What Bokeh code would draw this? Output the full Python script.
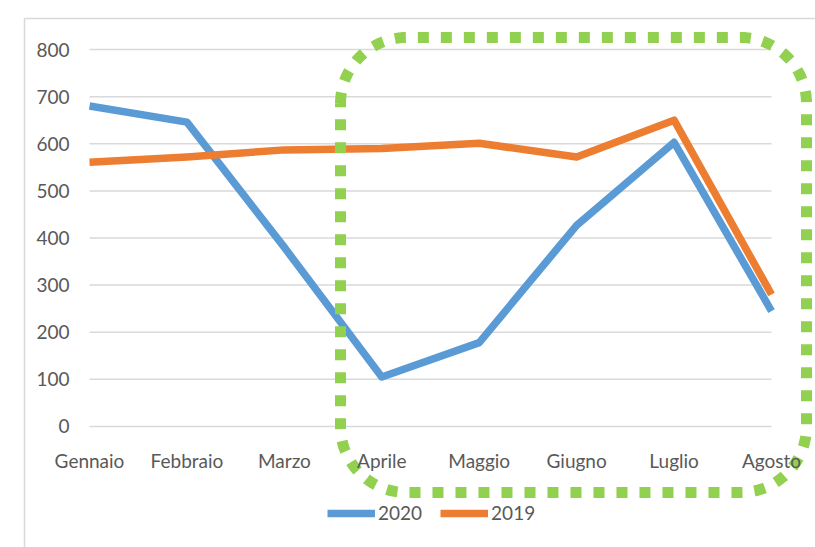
import numpy as np
from bokeh.plotting import figure
from bokeh.models import Range1d, Legend, LegendItem
from bokeh.core.properties import value
from bokeh.embed import file_html
from bokeh.resources import INLINE

# ---- data ----
months = ["Gennaio", "Febbraio", "Marzo", "Aprile", "Maggio", "Giugno", "Luglio", "Agosto"]
sales_2020 = [680, 646, 380, 105, 178, 427, 603, 245]
sales_2019 = [561, 572, 587, 590, 601, 572, 650, 280]
y_ticks = [0, 100, 200, 300, 400, 500, 600, 700, 800]
y_tick_labels = [str(t) for t in y_ticks]
series_names = ["2020", "2019"]

# ---- layout ----
W, H = 815, 547
x_start, x_end = -0.9135, 7.4516
y_start, y_end = -256.8, 904.0
px_x = W / (x_end - x_start)
px_y = H / (y_end - y_start)

def dx(px):  # horizontal pixel position -> data x
    return x_start + px / px_x

def dy(py):  # vertical pixel position from top -> data y
    return y_end - py / px_y

FONT = "Lato"
TXT = "#595959"
BLUE = "#5B9BD5"
ORANGE = "#ED7D31"
GREEN = "#92D050"

p = figure(width=W, height=H, output_backend="svg", toolbar_location=None,
           x_range=Range1d(x_start, x_end), y_range=Range1d(y_start, y_end),
           min_border=0, min_border_left=0, min_border_right=0,
           min_border_top=0, min_border_bottom=0)
p.axis.visible = False
p.grid.visible = False
p.outline_line_color = None
p.background_fill_color = "white"
p.border_fill_color = "white"

x_pos = list(range(len(months)))

# chart border (left and top)
xb, yb = dx(24), dy(18)
p.segment(x0=[xb, xb], y0=[yb, yb], x1=[xb, x_end], y1=[y_start, yb],
          line_color="#d9d9d9", line_width=1.5)

# gridlines
p.segment(x0=[x_pos[0]] * len(y_ticks), x1=[x_pos[-1]] * len(y_ticks),
          y0=y_ticks, y1=y_ticks, line_color="#d9d9d9", line_width=1.5)

# y tick labels
p.text(x=[dx(69)] * len(y_ticks), y=y_ticks, text=y_tick_labels,
       text_font=value(FONT), text_font_size="19px", text_color=TXT,
       text_align="right", text_baseline="middle")

# series
r20 = p.line(x_pos, sales_2020, line_color=BLUE, line_width=7.5, line_join="round")
r19 = p.line(x_pos, sales_2019, line_color=ORANGE, line_width=7.5, line_join="round")

# green dotted rounded rectangle (highlight annotation)
L, R, T, B = dx(340), dx(806), dy(37), dy(492)
rx, ry = 66 / px_x, 66 / px_y
def arc(cx, cy, a0, a1, n=30):
    a = np.linspace(np.radians(a0), np.radians(a1), n)
    return list(cx + rx * np.cos(a)), list(cy + ry * np.sin(a))
xs, ys = [], []
for (cx, cy, a0, a1) in [(L + rx, T - ry, 180, 90), (R - rx, T - ry, 90, 0),
                         (R - rx, B + ry, 0, -90), (L + rx, B + ry, -90, -180)]:
    ax_, ay_ = arc(cx, cy, a0, a1)
    xs += ax_
    ys += ay_
xs.append(xs[0]); ys.append(ys[0])
p.line(xs, ys, line_color=GREEN, line_width=11, line_dash="11 12", line_cap="butt")

# x category labels (drawn above the highlight)
p.text(x=x_pos, y=[dy(460)] * len(months), text=months,
       text_font=value(FONT), text_font_size="19px", text_color=TXT,
       text_align="center", text_baseline="middle")

# legend
legend = Legend(items=[LegendItem(label=series_names[0], renderers=[r20]),
                       LegendItem(label=series_names[1], renderers=[r19])],
                orientation="horizontal", location=(327, 23),
                glyph_width=48, glyph_height=18, label_standoff=3, spacing=18,
                padding=0, margin=0, border_line_color=None,
                background_fill_alpha=0,
                label_text_font=FONT, label_text_font_size="19px",
                label_text_color=TXT)
p.add_layout(legend, "center")

open("out.html", "w").write(file_html(p, INLINE))
